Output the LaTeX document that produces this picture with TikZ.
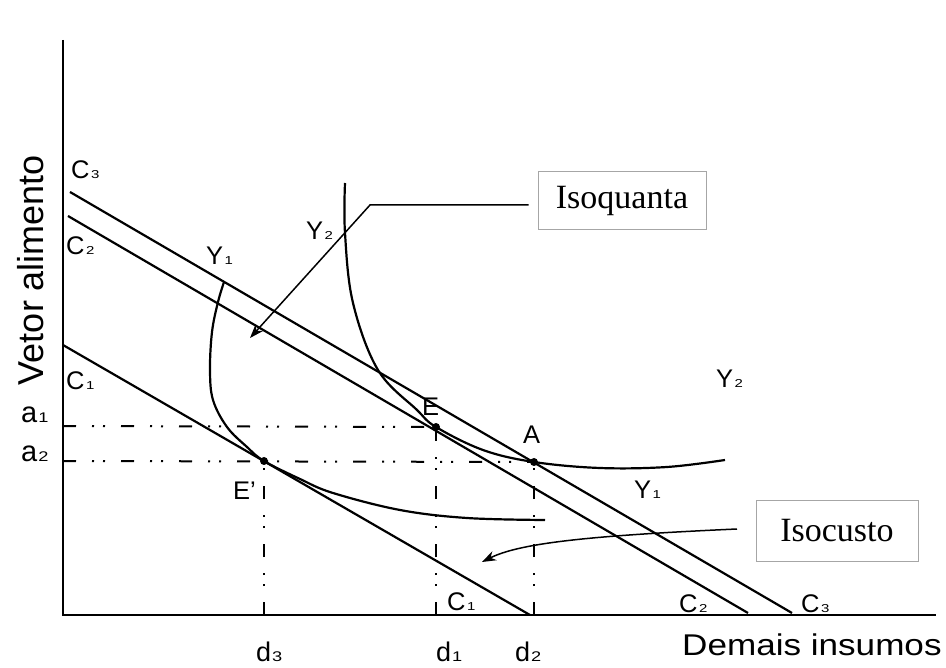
\documentclass[tikz,border=0pt]{standalone}
\usepackage{fontspec}
\setmainfont{Liberation Sans}
\newfontfamily\timesf{Liberation Serif}
\usetikzlibrary{arrows.meta}
\newcommand\sublab[2]{#1\hspace{1.5pt}{\fontsize{11.5}{12}\selectfont\scalebox{1.3}[1]{#2}}}
\newcommand\asub[2]{#1\hspace{1pt}{\fontsize{14}{14}\selectfont\scalebox{1.3}[1]{#2}}}
\begin{document}
\begin{tikzpicture}[x=1pt,y=-1pt,
  lbl/.style={inner sep=0pt, anchor=base west, font=\fontsize{25.5}{26}\selectfont},
  albl/.style={inner sep=0pt, anchor=base west, font=\fontsize{29}{29}\selectfont},
  dlbl/.style={inner sep=0pt, anchor=base west, font=\fontsize{27}{27}\selectfont},
  axis/.style={line width=2.4pt},
  costline/.style={line width=2.2pt},
  curve/.style={line width=2.2pt},
  guide/.style={line width=2pt, dash pattern=on 13pt off 16pt on 2pt off 9pt on 2pt off 16pt},
  callout/.style={draw=black!35, line width=1pt, inner sep=0pt, font=\timesf\fontsize{34}{34}\selectfont},
  arr/.style={line width=1.5pt, -{Stealth[length=14pt,width=10pt]}},
  pt/.style={circle, fill=black, inner sep=0pt, minimum size=8pt}]
\useasboundingbox (0,0) rectangle (946,668);
% axes
\coordinate (O) at (63,615);
\coordinate (ytop) at (63,40);
\coordinate (xend) at (936,615);
\draw[axis] (ytop) -- (O) -- (xend);
% cost lines
\coordinate (c3a) at (70,192);
\coordinate (c3b) at (792,613);
\coordinate (c2a) at (68,216);
\coordinate (c2b) at (748,613);
\coordinate (c1a) at (63,345);
\coordinate (c1b) at (530,615);
\draw[costline] (c3a) -- (c3b);
\draw[costline] (c2a) -- (c2b);
\draw[costline] (c1a) -- (c1b);
% points
\node[pt] (E) at (436,427) {};
\node[pt] (A) at (534,462) {};
\node[pt] (Ep) at (264,461) {};
% axis feet
\coordinate (a1) at (63,426);
\coordinate (a2) at (63,461);
\coordinate (d3) at (264,615);
\coordinate (d1) at (436,615);
\coordinate (d2) at (534,615);
\draw[guide] (a1) -- (E.center);
\draw[guide] (a2) -- (A.center);
\draw[guide] (d3) -- (Ep.center);
\draw[guide] (d1) -- (E.center);
\draw[guide] (d2) -- (A.center);
% isoquants
\draw[curve] plot[smooth, tension=0.6] coordinates {(224,282) (218,302) (212,332) (210,370) (213,400) (227,427) (247,447) (264,461) (300,479) (333,493) (400,510) (467,518) (545,520)};
\draw[curve] plot[smooth, tension=0.6] coordinates {(345,183) (345,233) (353,303) (378,370) (417,410) (436,427) (483,450) (534,462) (600,468) (667,467) (725,460)};
% labels
\node[lbl] (lc3) at (71,179) {\sublab{C}{3}};
\node[lbl] (lc2) at (66,255) {\sublab{C}{2}};
\node[lbl] (lc1) at (66,390) {\sublab{C}{1}};
\node[lbl] (lc1b) at (447,610) {\sublab{C}{1}};
\node[lbl] (lc2b) at (679,612) {\sublab{C}{2}};
\node[lbl] (lc3b) at (801,612) {\sublab{C}{3}};
\node[lbl] (ly1) at (206,265) {\sublab{Y}{1}};
\node[lbl] (ly2) at (306,240) {\sublab{Y}{2}};
\node[lbl] (ly2r) at (716,388) {\sublab{Y}{2}};
\node[lbl] (ly1r) at (634,498) {\sublab{Y}{1}};
\node[lbl] (lE) at (422,416) {E};
\node[lbl] (lA) at (523,443) {A};
\node[lbl] (lEp) at (233,499) {E’};
\node[albl] (la1) at (21,423) {\asub{a}{1}};
\node[albl] (la2) at (21,462) {\asub{a}{2}};
\node[dlbl] (ld3) at (256,661) {\asub{d}{3}};
\node[dlbl] (ld1) at (436,661) {\asub{d}{1}};
\node[dlbl] (ld2) at (515,661) {\asub{d}{2}};
\node[inner sep=0pt, anchor=base west, font=\fontsize{30}{30}\selectfont] (xlab) at (682,655) {\scalebox{1.17}[1]{Demais insumos}};
\node[inner sep=0pt, anchor=base, rotate=90, font=\fontsize{36}{36}\selectfont] (ylab) at (43,270) {Vetor alimento};
% callouts
\node[callout, minimum width=168pt, minimum height=58pt] (iq) at (622,201) {Isoquanta};
\node[callout, minimum width=162pt, minimum height=61pt] (ic) at (837,531) {Isocusto};
\coordinate (iqbend) at (370,205);
\coordinate (iqtip) at (250,338);
\coordinate (icstart) at (737,529);
\coordinate (ictip) at (482,562);
\draw[arr] (iq.west |- iqbend) ++(-9,0) -- (iqbend) -- (iqtip);
\draw[arr] (icstart) .. controls (580,536) and (518,544) .. (ictip);
\end{tikzpicture}
\end{document}
